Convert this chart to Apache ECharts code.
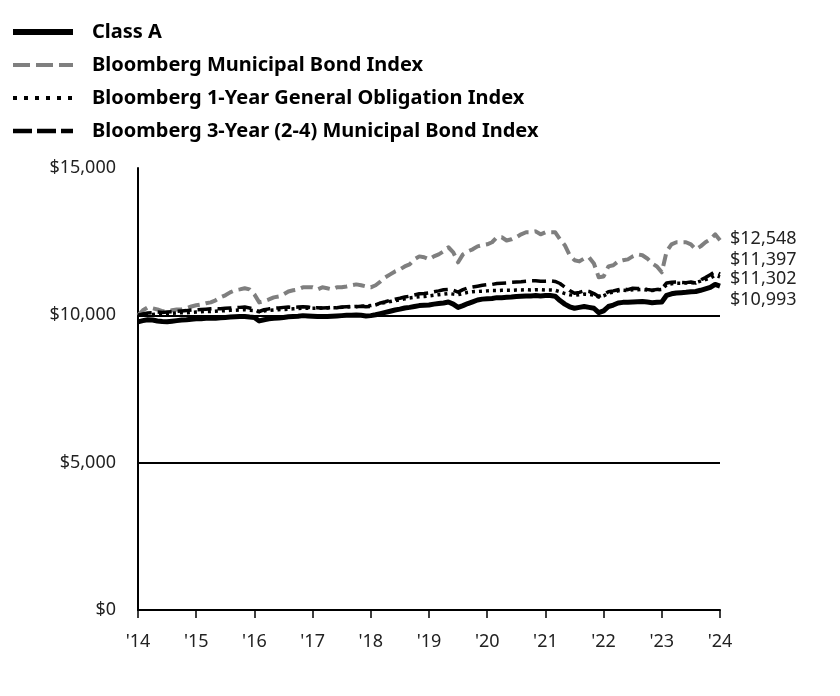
<!DOCTYPE html>
<html>
<head>
<meta charset="utf-8">
<script src="https://cdn.jsdelivr.net/npm/echarts@6/dist/echarts.min.js"></script>
<style>
  html, body { margin: 0; padding: 0; background: #fff; }
  #chart { width: 840px; height: 696px; }
</style>
</head>
<body>
<div id="chart"></div>
<script>
// ---- Data (monthly, growth of $10,000) ----
var seriesNames = [
  'Class A',
  'Bloomberg Municipal Bond Index',
  'Bloomberg 1-Year General Obligation Index',
  'Bloomberg 3-Year (2-4) Municipal Bond Index'
];

var xTickLabels = ["'14", "'15", "'16", "'17", "'18", "'19", "'20", "'21", "'22", "'23", "'24"];
var yTickLabels = ['$0', '$5,000', '$10,000', '$15,000'];

var classA = [
  9780, 9820, 9850, 9840, 9810, 9790, 9780, 9800, 9820, 9840, 9850, 9870,
  9880, 9880, 9900, 9910, 9900, 9920, 9930, 9940, 9950, 9960, 9960, 9940,
  9930, 9810, 9850, 9880, 9900, 9910, 9930, 9950, 9960, 9970, 9990, 9980,
  9970, 9960, 9960, 9960, 9970, 9980, 9990, 10000, 10000, 10010, 10000, 9980,
  9990, 10020, 10060, 10100, 10140, 10180, 10210, 10250, 10270, 10300, 10330, 10340,
  10350, 10380, 10400, 10420, 10450, 10380, 10270, 10330, 10400, 10460, 10520, 10550,
  10560, 10570, 10600, 10600, 10610, 10620, 10640, 10650, 10660, 10660, 10670, 10660,
  10670, 10670, 10650, 10500, 10380, 10290, 10240, 10270, 10300, 10270, 10240, 10090,
  10150, 10300, 10350, 10420, 10440, 10440, 10450, 10460, 10470, 10450, 10430, 10440,
  10450, 10680, 10730, 10760, 10770, 10780, 10800, 10810, 10850, 10900, 10950, 11050,
  10993
];

var muniIndex = [
  10000, 10170, 10270, 10240, 10200, 10140, 10140, 10170, 10200, 10200, 10240, 10300,
  10340, 10370, 10410, 10440, 10510, 10610, 10680, 10780, 10850, 10880, 10920, 10880,
  10710, 10440, 10480, 10540, 10610, 10640, 10710, 10810, 10850, 10880, 10950, 10950,
  10950, 10880, 10950, 10920, 10880, 10950, 10950, 10980, 11020, 11050, 11020, 10980,
  10950, 11020, 11150, 11290, 11390, 11490, 11560, 11660, 11730, 11900, 12000, 11970,
  11900, 12000, 12070, 12170, 12310, 12140, 11800, 12070, 12170, 12240, 12340, 12380,
  12410, 12480, 12650, 12650, 12540, 12580, 12650, 12750, 12820, 12820, 12850, 12750,
  12820, 12820, 12820, 12580, 12380, 12040, 11870, 11830, 11930, 11970, 11760, 11290,
  11320, 11660, 11700, 11830, 11870, 11900, 12000, 12070, 12040, 11930, 11760, 11660,
  11460, 12170, 12410, 12480, 12480, 12480, 12410, 12240, 12340, 12480, 12580, 12750,
  12548
];

var oneYearGO = [
  10000, 10010, 10020, 10030, 10040, 10050, 10060, 10070, 10080, 10090, 10090, 10100,
  10110, 10120, 10130, 10130, 10140, 10150, 10160, 10170, 10170, 10180, 10190, 10170,
  10160, 10120, 10150, 10170, 10180, 10190, 10200, 10210, 10220, 10230, 10240, 10240,
  10240, 10240, 10250, 10250, 10260, 10260, 10270, 10280, 10290, 10300, 10310, 10320,
  10330, 10360, 10400, 10440, 10470, 10500, 10530, 10560, 10590, 10610, 10630, 10640,
  10660, 10680, 10700, 10720, 10740, 10720, 10700, 10740, 10780, 10800, 10810, 10820,
  10830, 10840, 10840, 10850, 10850, 10850, 10860, 10860, 10870, 10860, 10870, 10870,
  10860, 10860, 10850, 10800, 10740, 10700, 10680, 10700, 10720, 10710, 10690, 10620,
  10660, 10750, 10790, 10830, 10850, 10840, 10870, 10870, 10880, 10860, 10840, 10860,
  10880, 11040, 11070, 11090, 11090, 11100, 11110, 11110, 11160, 11210, 11270, 11360,
  11302
];

var threeYearMuni = [
  10000, 10050, 10080, 10090, 10110, 10100, 10110, 10120, 10140, 10150, 10160, 10180,
  10190, 10200, 10210, 10220, 10230, 10220, 10240, 10250, 10260, 10270, 10280, 10250,
  10200, 10130, 10190, 10220, 10240, 10250, 10270, 10280, 10270, 10280, 10290, 10280,
  10250, 10260, 10250, 10260, 10270, 10260, 10280, 10290, 10300, 10290, 10310, 10290,
  10300, 10350, 10420, 10460, 10510, 10550, 10580, 10620, 10650, 10690, 10730, 10740,
  10760, 10800, 10830, 10870, 10880, 10850, 10790, 10870, 10930, 10960, 10990, 11020,
  11040, 11050, 11080, 11090, 11100, 11120, 11130, 11140, 11160, 11170, 11170, 11160,
  11160, 11170, 11150, 11080, 10960, 10840, 10750, 10780, 10830, 10810, 10740, 10640,
  10700, 10800, 10830, 10870, 10900, 10870, 10920, 10910, 10920, 10880, 10850, 10880,
  10900, 11100, 11120, 11130, 11120, 11110, 11130, 11100, 11200, 11280, 11380, 11480,
  11397
];

// month categories (axis positions only)
var months = [];
(function () {
  var y = 2014, mo = 8;
  for (var i = 0; i < classA.length; i++) {
    months.push(y + '-' + (mo < 10 ? '0' + mo : mo));
    mo++; if (mo > 12) { mo = 1; y++; }
  }
})();

var FONT = '"Noto Sans", "Open Sans", sans-serif';

function fmtDollar(v) {
  return '$' + v.toLocaleString('en-US');
}

var styles = [
  { color: '#000000', width: 5, type: 'solid', cap: 'butt', join: 'round' },
  { color: '#7f7f7f', width: 4, type: [12, 6], cap: 'butt', join: 'round' },
  { color: '#000000', width: 3.5, type: [3, 4], cap: 'butt', join: 'round' },
  { color: '#000000', width: 3.5, type: [14, 6], cap: 'butt', join: 'round' }
];
var legendStyles = [
  { color: '#000000', width: 6, type: 'solid', cap: 'butt' },
  { color: '#7f7f7f', width: 4, type: [17, 6], cap: 'butt' },
  { color: '#000000', width: 4, type: [4, 7], cap: 'butt' },
  { color: '#000000', width: 4.5, type: [19, 5], cap: 'butt' }
];
var labelOffsets = [14, -1, 2, -14];
var zs = [5, 2, 3, 4];
var allData = [classA, muniIndex, oneYearGO, threeYearMuni];

var series = seriesNames.map(function (name, i) {
  return {
    name: name,
    type: 'line',
    data: allData[i],
    showSymbol: false,
    symbol: 'none',
    z: zs[i],
    lineStyle: styles[i],
    itemStyle: { color: styles[i].color },
    emphasis: { disabled: true },
    endLabel: {
      show: true,
      formatter: function (p) { return fmtDollar(p.value); },
      color: '#222',
      fontFamily: FONT,
      fontSize: 18,
      distance: 10,
      offset: [0, labelOffsets[i]]
    }
  };
});

var chart = echarts.init(document.getElementById('chart'), null, { renderer: 'canvas' });

chart.setOption({
  animation: false,
  backgroundColor: '#ffffff',
  legend: {
    orient: 'vertical',
    left: 5,
    top: 16,
    itemWidth: 60,
    itemHeight: 14,
    itemGap: 11,
    selectedMode: false,
    textStyle: {
      fontFamily: FONT,
      fontWeight: 'bold',
      fontSize: 20,
      color: '#000',
      padding: [0, 0, 0, 14],
      lineHeight: 22
    },
    data: seriesNames.map(function (name, i) {
      return {
        name: name,
        itemStyle: { opacity: 0 },
        lineStyle: legendStyles[i]
      };
    })
  },
  grid: { left: 138, right: 120, top: 168, bottom: 86, containLabel: false },
  xAxis: {
    type: 'category',
    data: months,
    boundaryGap: false,
    axisLine: { show: true, lineStyle: { color: '#000', width: 2 } },
    axisTick: {
      show: true,
      length: 8,
      interval: function (i) { return i % 12 === 0; },
      lineStyle: { color: '#000', width: 1.5 }
    },
    axisLabel: {
      interval: function (i) { return i % 12 === 0; },
      formatter: function (v, i) { return xTickLabels[Math.round(i / 12)]; },
      margin: 23,
      color: '#222',
      fontFamily: FONT,
      fontSize: 18,
      showMaxLabel: true
    },
    splitLine: { show: false }
  },
  yAxis: {
    type: 'value',
    min: 0,
    max: 15000,
    interval: 5000,
    axisLine: { show: true, lineStyle: { color: '#000', width: 2 } },
    axisTick: { show: false },
    axisLabel: {
      formatter: function (v) { return yTickLabels[Math.round(v / 5000)]; },
      margin: 22,
      color: '#222',
      fontFamily: FONT,
      fontSize: 18
    },
    splitLine: {
      show: true,
      showMinLine: false,
      showMaxLine: false,
      lineStyle: { color: '#000', width: 2 }
    }
  },
  series: series
});
</script>
</body>
</html>
